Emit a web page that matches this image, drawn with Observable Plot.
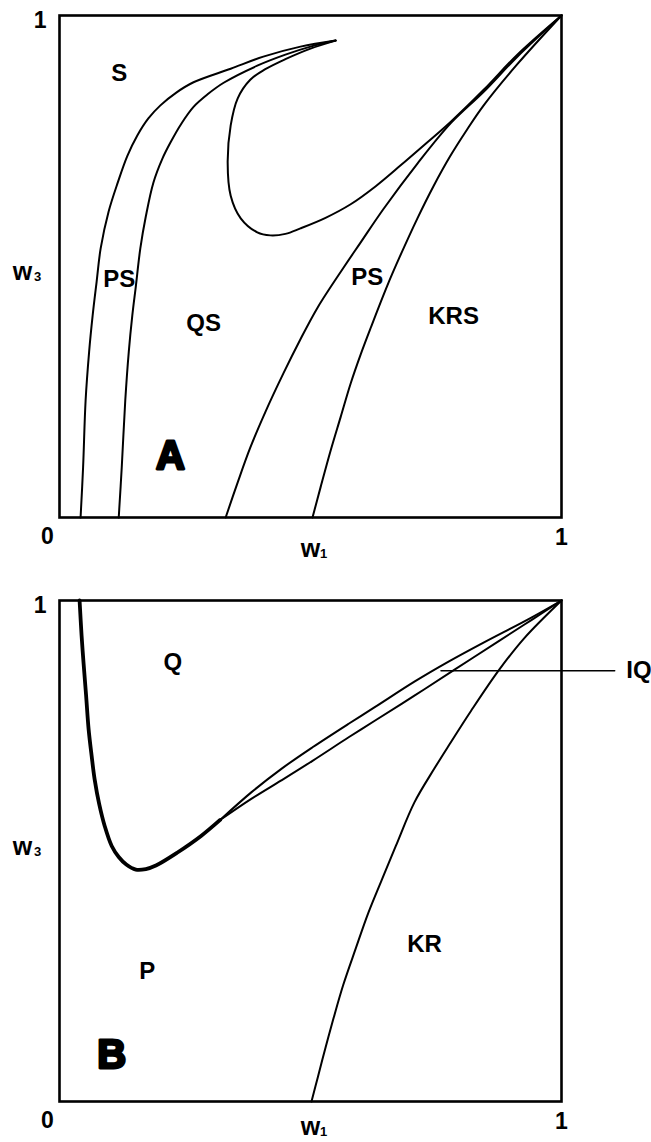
<!DOCTYPE html>
<html><head><meta charset="utf-8">
<script src="https://cdn.jsdelivr.net/npm/d3@7"></script>
<script src="https://cdn.jsdelivr.net/npm/@observablehq/plot@0.6"></script>
<style>
body{margin:0;background:#fff;}
#chart svg{display:block;}
</style>
</head><body><div id="chart"></div>
<script>
// ---------- Panel A boundaries (w1, w3) ----------
const aS_PS = [[0.042,0],[0.047,0.1],[0.052,0.233],[0.059,0.33],[0.066,0.402],[0.074,0.47],[0.082,0.536],[0.098,0.61],[0.116,0.667],[0.135,0.72],[0.155,0.761],[0.177,0.795],[0.201,0.821],[0.232,0.846],[0.267,0.867],[0.341,0.894],[0.406,0.918],[0.48,0.938],[0.550,0.950]];
const aPS_QS = [[0.118,0],[0.124,0.1],[0.131,0.233],[0.138,0.33],[0.145,0.402],[0.152,0.46],[0.161,0.536],[0.172,0.60],[0.187,0.667],[0.205,0.715],[0.221,0.747],[0.243,0.785],[0.267,0.818],[0.295,0.843],[0.327,0.866],[0.394,0.900],[0.45,0.922],[0.50,0.938],[0.550,0.950]];
const aLoop = [[0.550,0.950],[0.50,0.934],[0.45,0.913],[0.41,0.893],[0.380,0.872],[0.355,0.835],[0.341,0.781],[0.335,0.707],[0.341,0.641],[0.361,0.596],[0.394,0.568],[0.420,0.562],[0.45,0.565],[0.480,0.576],[0.530,0.597],[0.580,0.624],[0.630,0.660],[0.679,0.701],[0.730,0.745],[0.779,0.788],[0.845,0.852],[0.912,0.922],[1,1]];
const aQS_PS = [[0.331,0],[0.355,0.07],[0.380,0.139],[0.41,0.21],[0.446,0.287],[0.48,0.355],[0.514,0.418],[0.566,0.498],[0.600,0.548],[0.645,0.614],[0.713,0.705],[0.779,0.785],[0.845,0.848],[0.912,0.918],[1,1]];
const aPS_KRS = [[0.504,0],[0.52,0.06],[0.540,0.133],[0.560,0.20],[0.580,0.267],[0.600,0.325],[0.620,0.378],[0.653,0.462],[0.679,0.522],[0.713,0.596],[0.745,0.66],[0.779,0.721],[0.812,0.773],[0.845,0.821],[0.912,0.903],[1,1]];
const aRegionNames = ["S","PS","QS","PS","KRS"];
const aRegionX = [0.119,0.119,0.287,0.613,0.785];
const aRegionY = [0.884,0.474,0.386,0.478,0.401];
const aPanelLetter = [{x:0.221, y:0.122, label:"A"}];

// ---------- Panel B boundaries ----------
const bValley = [[0.040,1.0],[0.044,0.93],[0.048,0.874],[0.053,0.81],[0.058,0.743],[0.064,0.69],[0.070,0.643],[0.079,0.594],[0.090,0.550],[0.104,0.510],[0.118,0.488],[0.133,0.473],[0.152,0.463],[0.172,0.464],[0.192,0.471],[0.235,0.497],[0.282,0.530],[0.32,0.562]];
const bUpperBranch = [[0.32,0.562],[0.382,0.617],[0.442,0.664],[0.504,0.707],[0.576,0.754],[0.628,0.787],[0.707,0.838],[0.775,0.878],[0.841,0.914],[0.940,0.966],[1,1]];
const bLowerBranch = [[0.32,0.562],[0.382,0.604],[0.442,0.641],[0.504,0.680],[0.576,0.727],[0.628,0.760],[0.707,0.810],[0.787,0.862],[0.875,0.919],[0.940,0.961],[1,1]];
const bKR = [[0.502,0],[0.515,0.05],[0.53,0.108],[0.545,0.163],[0.565,0.232],[0.590,0.305],[0.615,0.376],[0.641,0.440],[0.670,0.510],[0.707,0.597],[0.747,0.665],[0.777,0.713],[0.82,0.780],[0.876,0.862],[0.926,0.925],[1,1]];
const bIQLeader = [[0.76,0.86],[1.106,0.86]];
const bRegionNames = ["Q","P","KR"];
const bRegionX = [0.226,0.175,0.727];
const bRegionY = [0.876,0.259,0.313];
const bCallout = [{x:1.129, y:0.86, label:"IQ"}];
const bPanelLetter = [{x:0.104, y:0.092, label:"B"}];

// ---------- axes ----------
const axisTicks = [1];
const originLabel = [{x:0, y:0, label:"0"}];
const xTitle = "w", xSub = "1", yTitle = "w", ySub = "3";

const FONT = "'Liberation Sans', Arial, Helvetica, sans-serif";

function regions(names, xs, ys) {
  return names.map((n, i) => ({label: n, x: xs[i], y: ys[i]}));
}

function panel({lines, labels, letter, extra = [], height, marginTop, marginBottom, yTitleY, titleDy, subDy}) {
  return Plot.plot({
    width: 651,
    height,
    marginLeft: 59,
    marginRight: 90,
    marginTop,
    marginBottom,
    x: {domain: [0, 1]},
    y: {domain: [0, 1]},
    style: {fontFamily: FONT, fontSize: "23px", fontWeight: "bold", color: "black", background: "white"},
    marks: [
      Plot.frame({stroke: "black", strokeWidth: 2.6}),
      ...lines,
      ...extra,
      Plot.text(labels, {x: "x", y: "y", text: "label", fontSize: 24, fontWeight: "bold", fill: "black"}),
      Plot.text(letter, {x: "x", y: "y", text: "label", fontSize: 40, fontWeight: "bold", fill: "black", stroke: "black", strokeWidth: 2.8}),
      Plot.axisX({ticks: axisTicks, tickSize: 0, tickPadding: 11, label: null, tickFormat: d => String(d)}),
      Plot.axisY({ticks: axisTicks, tickSize: 0, tickPadding: 13, label: null, dy: 5, tickFormat: d => String(d)}),
      Plot.text(originLabel, {x: "x", y: "y", text: "label", dx: -12, dy: 19, lineAnchor: "middle"}),
      // x title w1
      Plot.text([{x: 0.5, y: 0}], {x: "x", y: "y", text: () => xTitle, dy: titleDy, fontSize: 25, lineAnchor: "middle"}),
      Plot.text([{x: 0.5, y: 0}], {x: "x", y: "y", text: () => xSub, dx: 13, dy: subDy, fontSize: 13, lineAnchor: "middle"}),
      // y title w3
      Plot.text([{x: 0, y: yTitleY}], {x: "x", y: "y", text: () => yTitle, dx: -37, fontSize: 25, lineAnchor: "middle"}),
      Plot.text([{x: 0, y: yTitleY}], {x: "x", y: "y", text: () => ySub, dx: -22, dy: 5, fontSize: 13, lineAnchor: "middle"})
    ]
  });
}

const lineOpts = {curve: "catmull-rom", stroke: "black", strokeWidth: 2};

const plotA = panel({
  lines: [aS_PS, aPS_QS, aLoop, aQS_PS, aPS_KRS].map(c => Plot.line(c, lineOpts)),
  labels: regions(aRegionNames, aRegionX, aRegionY),
  letter: aPanelLetter,
  height: 575, marginTop: 15, marginBottom: 58,
  yTitleY: 0.49, titleDy: 31, subDy: 36
});

const plotB = panel({
  lines: [
    Plot.line(bValley, {...lineOpts, strokeWidth: 3.8}),
    Plot.line(bUpperBranch, lineOpts),
    Plot.line(bLowerBranch, lineOpts),
    Plot.line(bKR, lineOpts)
  ],
  extra: [
    Plot.line(bIQLeader, {stroke: "black", strokeWidth: 1.5}),
    Plot.text(bCallout, {x: "x", y: "y", text: "label", textAnchor: "start", fontSize: 24, fontWeight: "bold"})
  ],
  labels: regions(bRegionNames, bRegionX, bRegionY),
  letter: bPanelLetter,
  height: 567, marginTop: 25, marginBottom: 41,
  yTitleY: 0.508, titleDy: 25, subDy: 30
});

const chart = document.getElementById("chart");
chart.appendChild(plotA);
chart.appendChild(plotB);
</script>
</body></html>
